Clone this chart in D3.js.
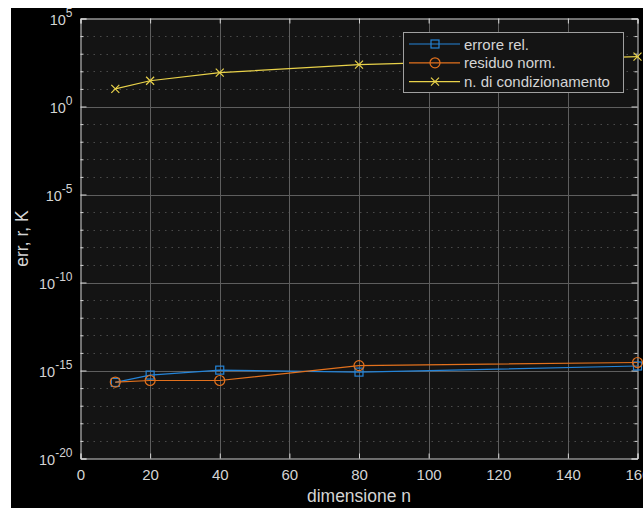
<!DOCTYPE html>
<html><head><meta charset="utf-8">
<script src="https://cdn.jsdelivr.net/npm/d3@7"></script>
<style>body{margin:0;background:#fff;}svg{display:block;}</style>
</head><body>
<script>
const dims = [10, 20, 40, 80, 160];
const erroreRel = [2.1e-16, 5.5e-16, 1.05e-15, 8.1e-16, 1.8e-15];
const residuoNorm = [2.2e-16, 2.7e-16, 2.7e-16, 1.9e-15, 2.85e-15];
const condNum = [10, 29, 84, 240, 680];
const xTicks = [0, 20, 40, 60, 80, 100, 120, 140, 160];
const yMajorExp = [-20, -15, -10, -5, 0, 5];
const seriesNames = ["errore rel.", "residuo norm.", "n. di condizionamento"];
const colors = ["#2484d8", "#e2711d", "#e9d24a"];

const W = 643, H = 508;
const svg = d3.select("body").append("svg").attr("width", W).attr("height", H);
svg.append("rect").attr("x", 11).attr("y", 8).attr("width", W - 11).attr("height", H - 8).attr("fill", "#000");

const L = 80.5, R = 637.5, T = 18.5, B = 458.5;
const x = d3.scaleLinear().domain([0, 160]).range([L, R]);
const y = d3.scaleLog().domain([1e-20, 1e5]).range([B, T]);
const font = "'Liberation Sans', Arial, Helvetica, sans-serif";
const fg = "#d4d4d4";

svg.append("rect").attr("x", L).attr("y", T).attr("width", R - L).attr("height", B - T).attr("fill", "#141414");

const allExp = d3.range(-20, 6);
const minorExp = allExp.filter(e => e % 5 !== 0);
// minor dotted grid
svg.append("g").selectAll("line").data(minorExp).join("line")
  .attr("x1", L).attr("x2", R)
  .attr("y1", e => Math.round(y(Math.pow(10, e))) + 0.5).attr("y2", e => Math.round(y(Math.pow(10, e))) + 0.5)
  .attr("stroke", "#4a4a4a").attr("stroke-width", 1).attr("stroke-dasharray", "1.5,5");
// major grid
svg.append("g").selectAll("line").data(yMajorExp.slice(1, -1)).join("line")
  .attr("x1", L).attr("x2", R)
  .attr("y1", e => Math.round(y(Math.pow(10, e))) + 0.5).attr("y2", e => Math.round(y(Math.pow(10, e))) + 0.5)
  .attr("stroke", "#5e5e5e").attr("stroke-width", 1);
svg.append("g").selectAll("line").data(xTicks.slice(1, -1)).join("line")
  .attr("y1", T).attr("y2", B)
  .attr("x1", d => Math.round(x(d)) + 0.5).attr("x2", d => Math.round(x(d)) + 0.5)
  .attr("stroke", "#5e5e5e").attr("stroke-width", 1);

// axes via d3 axis
const xAxis = d3.axisBottom(x).tickValues(xTicks).tickSize(-5).tickPadding(11).tickFormat(d3.format("d"));
const gx = svg.append("g").attr("transform", `translate(0,${B})`).call(xAxis);
gx.select(".domain").attr("stroke", fg);
gx.selectAll(".tick line").attr("stroke", fg);
gx.selectAll("text").attr("fill", fg).attr("font-size", 15).attr("font-family", font);
const xTop = svg.append("g").attr("transform", `translate(0,${T})`).call(d3.axisTop(x).tickValues(xTicks).tickSize(-5).tickFormat(""));
xTop.select(".domain").attr("stroke", fg);
xTop.selectAll(".tick line").attr("stroke", fg);

const yAxis = d3.axisLeft(y).tickValues(yMajorExp.map(e => Math.pow(10, e))).tickSize(-6).tickPadding(9).tickFormat("");
const gy = svg.append("g").attr("transform", `translate(${L},0)`).call(yAxis);
gy.select(".domain").attr("stroke", fg);
gy.selectAll(".tick line").attr("stroke", fg);
gy.selectAll(".tick").each(function(d) {
  const e = Math.round(Math.log10(d));
  const t = d3.select(this).append("text").attr("fill", fg).attr("font-family", font)
    .attr("text-anchor", "end").attr("x", -8).attr("y", 6);
  t.append("tspan").attr("font-size", 14.5).text("10");
  t.append("tspan").attr("font-size", 12).attr("dy", -8).text(String(e));
});
const yMinor = svg.append("g").attr("transform", `translate(${L},0)`).call(d3.axisLeft(y).tickValues(minorExp.map(e => Math.pow(10, e))).tickSize(-3).tickFormat(""));
yMinor.select(".domain").remove();
yMinor.selectAll(".tick line").attr("stroke", fg);
const yR = svg.append("g").attr("transform", `translate(${R},0)`).call(d3.axisRight(y).tickValues(yMajorExp.map(e => Math.pow(10, e))).tickSize(-6).tickFormat(""));
yR.select(".domain").attr("stroke", fg);
yR.selectAll(".tick line").attr("stroke", fg);
const yRm = svg.append("g").attr("transform", `translate(${R},0)`).call(d3.axisRight(y).tickValues(minorExp.map(e => Math.pow(10, e))).tickSize(-3).tickFormat(""));
yRm.select(".domain").remove();
yRm.selectAll(".tick line").attr("stroke", fg);

// labels
svg.append("text").attr("x", (L + R) / 2).attr("y", 502).attr("text-anchor", "middle")
  .attr("fill", fg).attr("font-family", font).attr("font-size", 17.5).text("dimensione n");
svg.append("text").attr("transform", `translate(28,${(T + B) / 2}) rotate(-90)`).attr("text-anchor", "middle")
  .attr("fill", fg).attr("font-family", font).attr("font-size", 17.5).text("err, r, K");

// data
const series = [erroreRel, residuoNorm, condNum];
const line = d3.line().x((d, i) => x(dims[i])).y(d => y(d));
const plot = svg.append("g");

function marker(g, k, cx, cy) {
  if (k === 0) g.append("rect").attr("x", cx - 4).attr("y", cy - 4).attr("width", 8).attr("height", 8)
    .attr("fill", "none").attr("stroke", colors[0]).attr("stroke-width", 1.2);
  else if (k === 1) g.append("circle").attr("cx", cx).attr("cy", cy).attr("r", 5)
    .attr("fill", "none").attr("stroke", colors[1]).attr("stroke-width", 1.2);
  else g.append("path").attr("d", `M${cx-4},${cy-4}L${cx+4},${cy+4}M${cx-4},${cy+4}L${cx+4},${cy-4}`)
    .attr("stroke", colors[2]).attr("stroke-width", 1.2);
}

series.forEach((s, k) => {
  plot.append("path").datum(s).attr("d", line).attr("fill", "none").attr("stroke", colors[k]).attr("stroke-width", 1.2);
  s.forEach((v, i) => marker(plot, k, x(dims[i]), y(v)));
});

// legend
const lg = svg.append("g");
lg.append("rect").attr("x", 403.5).attr("y", 32.5).attr("width", 220).attr("height", 60)
  .attr("fill", "#141414").attr("stroke", "#a0a0a0").attr("stroke-width", 1);
seriesNames.forEach((nm, k) => {
  const yy = 44 + k * 18.8;
  lg.append("line").attr("x1", 409).attr("x2", 460).attr("y1", yy).attr("y2", yy).attr("stroke", colors[k]).attr("stroke-width", 1.2);
  marker(lg, k, 435, yy);
  lg.append("text").attr("x", 464).attr("y", yy + 5.5).attr("fill", fg).attr("font-family", font).attr("font-size", 15).text(nm);
});
</script>
</body></html>
